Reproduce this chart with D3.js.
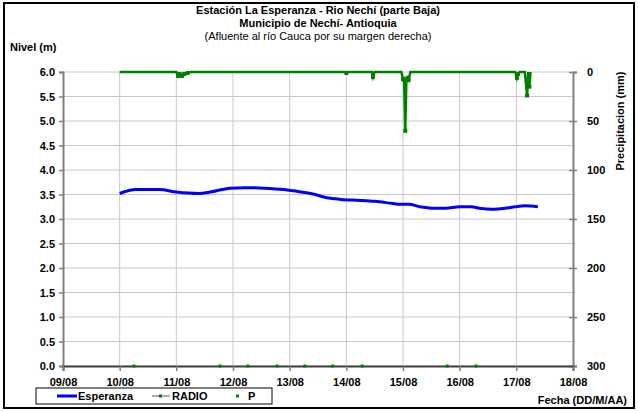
<!DOCTYPE html>
<html>
<head>
<meta charset="utf-8">
<script src="https://cdn.jsdelivr.net/npm/d3@7"></script>
<style>
    body { margin: 0; background: #fff; }
    text { font-family: "Liberation Sans", Arial, sans-serif; }
</style>
</head>
<body>
<div id="chart"></div>
<script>
// day of August (fractional) and level in metres
var espDays = [10.0, 10.1, 10.27, 10.5, 10.7, 11.0, 11.4, 11.6, 11.95, 12.2, 12.55, 12.9, 13.2, 13.45, 13.6, 13.9,
    14.25, 14.5, 14.8, 14.95, 15.1, 15.3, 15.5, 15.75, 16.0, 16.2, 16.35, 16.57, 16.8, 16.98, 17.15, 17.38];
var espLevel = [3.52, 3.56, 3.6, 3.6, 3.6, 3.55, 3.52, 3.55, 3.63, 3.64, 3.63, 3.6, 3.55, 3.5, 3.45, 3.4,
    3.38, 3.36, 3.32, 3.3, 3.3, 3.25, 3.22, 3.22, 3.25, 3.25, 3.22, 3.2, 3.22, 3.25, 3.27, 3.25];

// RADIO precipitation (mm)
var radioDays = [10.0, 11.0, 11.03, 11.06, 11.1, 11.14, 11.2, 11.25, 13.98, 14.0, 14.02, 14.45, 14.47, 14.5,
    14.97, 15.0, 15.02, 15.04, 15.06, 15.08, 15.1, 15.13, 16.98, 17.01, 17.03, 17.06, 17.15, 17.19, 17.21, 17.23, 17.25];
var radioMM = [0, 0, 4, 2, 4, 2, 1, 0, 0, 1, 0, 0, 5, 0,
    0, 7, 8, 60, 8, 6, 8, 0, 0, 6, 2, 0, 0, 24, 0, 15, 0];

// P readings (drawn on the level axis at 0)
var pDays = [10.25, 11.77, 12.26, 12.78, 13.27, 13.76, 14.28, 15.78, 16.29];
var pLevel = [0, 0, 0, 0, 0, 0, 0, 0, 0];

var xTicks = [9, 10, 11, 12, 13, 14, 15, 16, 17, 18];
var xLabels = ["09/08", "10/08", "11/08", "12/08", "13/08", "14/08", "15/08", "16/08", "17/08", "18/08"];
var levelTicks = [0, 0.5, 1, 1.5, 2, 2.5, 3, 3.5, 4, 4.5, 5, 5.5, 6];
var precipTicks = [0, 50, 100, 150, 200, 250, 300];

var width = 638, height = 411;
var svg = d3.select("#chart").append("svg").attr("width", width).attr("height", height);

var x = d3.scaleLinear().domain([9, 18]).range([63, 573]);
var yL = d3.scaleLinear().domain([0, 6]).range([366, 72]);
var yR = d3.scaleLinear().domain([0, 300]).range([72, 366]);

// outer frame
svg.append("rect").attr("x", 4).attr("y", 3).attr("width", 630).attr("height", 405)
    .attr("fill", "none").attr("stroke", "#000").attr("stroke-width", 2);

// grid
svg.append("g").selectAll("line").data(levelTicks).enter().append("line")
    .attr("x1", x(9)).attr("x2", x(18))
    .attr("y1", d => yL(d)).attr("y2", d => yL(d))
    .attr("stroke", "#c8c8c8").attr("stroke-width", 1);
svg.append("g").selectAll("line").data(xTicks.slice(1, -1)).enter().append("line")
    .attr("x1", d => x(d)).attr("x2", d => x(d))
    .attr("y1", yL(6)).attr("y2", yL(0))
    .attr("stroke", "#c8c8c8").attr("stroke-width", 1);

// axes
var left = svg.append("g").attr("transform", "translate(" + x(9) + ",0)")
    .call(d3.axisLeft(yL).tickValues(levelTicks).tickFormat(d3.format(".1f")).tickSize(4).tickPadding(4));
var right = svg.append("g").attr("transform", "translate(" + x(18) + ",0)")
    .call(d3.axisRight(yR).tickValues(precipTicks).tickSize(4).tickPadding(10));
right.selectAll(".tick line").attr("x1", -4);
var bottom = svg.append("g").attr("transform", "translate(0," + yL(0) + ")")
    .call(d3.axisBottom(x).tickValues(xTicks).tickFormat((d, i) => xLabels[i]).tickSize(5).tickPadding(7));

[left, right, bottom].forEach(function (g) {
    g.select(".domain").attr("stroke", "#808080").attr("stroke-width", 2);
    g.selectAll(".tick line").attr("stroke", "#808080").attr("stroke-width", 1.5);
    g.selectAll(".tick text").attr("font-size", 11).attr("font-weight", "bold").attr("fill", "#000")
        .style("font-family", "Liberation Sans, Arial, sans-serif");
});
bottom.select(".domain").attr("stroke", "#404040");

// RADIO line
var radio = radioDays.map((d, i) => ({ d: d, v: radioMM[i] }));
svg.append("path").datum(radio)
    .attr("fill", "none").attr("stroke", "#008000").attr("stroke-width", 2.5)
    .attr("d", d3.line().x(d => x(d.d)).y(d => yR(d.v)));
svg.append("g").selectAll("rect").data(radio.filter(d => d.v > 0)).enter().append("rect")
    .attr("x", d => x(d.d) - 2).attr("y", d => yR(d.v) - 2)
    .attr("width", 4).attr("height", 4).attr("fill", "#008000");

// Esperanza line
var esp = espDays.map((d, i) => ({ d: d, v: espLevel[i] }));
svg.append("path").datum(esp)
    .attr("fill", "none").attr("stroke", "#0000ff").attr("stroke-width", 3)
    .attr("d", d3.line().curve(d3.curveMonotoneX).x(d => x(d.d)).y(d => yL(d.v)));

// P points
svg.append("g").selectAll("rect").data(pDays.map((d, i) => ({ d: d, v: pLevel[i] }))).enter().append("rect")
    .attr("x", d => x(d.d) - 1.5).attr("y", d => yL(d.v) - 1.5)
    .attr("width", 3).attr("height", 3).attr("fill", "#008000");

// titles
var titles = [
    { t: "Estación La Esperanza - Rio Nechí  (parte Baja)", y: 14, w: "bold" },
    { t: "Municipio de Nechí- Antioquia", y: 27, w: "bold" },
    { t: "(Afluente al río Cauca por su margen derecha)", y: 40, w: "normal" }
];
svg.selectAll(".title").data(titles).enter().append("text")
    .attr("class", "title")
    .attr("x", 318).attr("y", d => d.y)
    .attr("text-anchor", "middle").attr("font-size", 11).attr("font-weight", d => d.w)
    .text(d => d.t);

svg.append("text").attr("x", 10).attr("y", 51).attr("font-size", 11).attr("font-weight", "bold").text("Nivel (m)");
svg.append("text").attr("transform", "translate(624,121) rotate(-90)")
    .attr("text-anchor", "middle").attr("font-size", 11).attr("font-weight", "bold").text("Precipitacion (mm)");
svg.append("text").attr("x", 627).attr("y", 404).attr("text-anchor", "end")
    .attr("font-size", 11).attr("font-weight", "bold").text("Fecha (DD/M/AA)");

// legend
var lg = svg.append("g");
lg.append("rect").attr("x", 36).attr("y", 388).attr("width", 236).attr("height", 16)
    .attr("fill", "#fff").attr("stroke", "#000").attr("stroke-width", 1);
lg.append("line").attr("x1", 57).attr("x2", 77).attr("y1", 396).attr("y2", 396)
    .attr("stroke", "#0000ff").attr("stroke-width", 3);
lg.append("text").attr("x", 78).attr("y", 400).attr("font-size", 11).attr("font-weight", "bold").text("Esperanza");
lg.append("line").attr("x1", 152).attr("x2", 170).attr("y1", 396).attr("y2", 396)
    .attr("stroke", "#909090").attr("stroke-width", 1.5);
lg.append("rect").attr("x", 159).attr("y", 394.5).attr("width", 3).attr("height", 3).attr("fill", "#008000");
lg.append("text").attr("x", 172).attr("y", 400).attr("font-size", 11).attr("font-weight", "bold").text("RADIO");
lg.append("rect").attr("x", 236).attr("y", 394.5).attr("width", 3).attr("height", 3).attr("fill", "#008000");
lg.append("text").attr("x", 248).attr("y", 400).attr("font-size", 11).attr("font-weight", "bold").text("P");
</script>
</body>
</html>
